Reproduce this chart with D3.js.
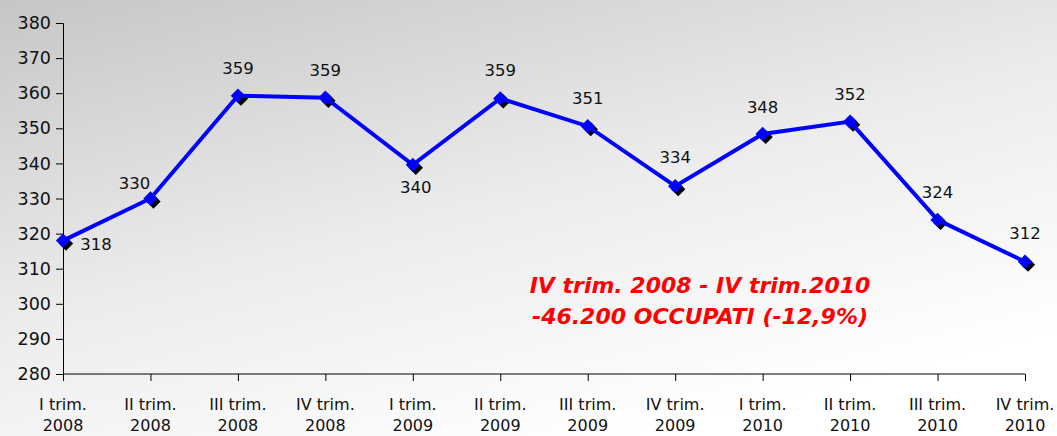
<!DOCTYPE html>
<html>
<head>
<meta charset="utf-8">
<script src="https://cdn.jsdelivr.net/npm/d3@7"></script>
<style>
  body { margin: 0; }
  text { font-family: "DejaVu Sans", Verdana, sans-serif; }
</style>
</head>
<body>
<div id="plot"></div>
<script>
// data
var quarters = ['I trim.', 'II trim.', 'III trim.', 'IV trim.', 'I trim.', 'II trim.', 'III trim.', 'IV trim.', 'I trim.', 'II trim.', 'III trim.', 'IV trim.'];
var years = ['2008', '2008', '2008', '2008', '2009', '2009', '2009', '2009', '2010', '2010', '2010', '2010'];
var occupati = [318, 330, 359.3, 358.7, 339.6, 358.5, 350.6, 333.5, 348.4, 351.9, 323.9, 312];
var labels = ['318', '330', '359', '359', '340', '359', '351', '334', '348', '352', '324', '312'];
var yTicks = [280, 290, 300, 310, 320, 330, 340, 350, 360, 370, 380];
var note = ['IV trim. 2008 - IV trim.2010', '-46.200 OCCUPATI (-12,9%)'];

var svg_width = 1057;
var svg_height = 436;
var left_margin = 63;
var right_x = 1025;
var top_y = 23;
var bottom_y = 374;

var svg = d3.select('#plot').append('svg')
  .attr('width', svg_width)
  .attr('height', svg_height);

// background gradient: grey top-left fading to white
var grad = svg.append('defs').append('linearGradient')
  .attr('id', 'bg')
  .attr('x1', '0%').attr('y1', '0%')
  .attr('x2', '60%').attr('y2', '100%');
grad.append('stop').attr('offset', '0%').attr('stop-color', '#c6c6c6');
grad.append('stop').attr('offset', '55%').attr('stop-color', '#ececec');
grad.append('stop').attr('offset', '100%').attr('stop-color', '#ffffff');

svg.append('rect')
  .attr('width', svg_width)
  .attr('height', svg_height)
  .attr('fill', 'url(#bg)');

var idx = d3.range(quarters.length);

var xscale = d3.scalePoint()
  .domain(idx)
  .range([left_margin, right_x]);

var yscale = d3.scaleLinear()
  .domain([280, 380])
  .range([bottom_y, top_y]);

// y axis
var yaxis = d3.axisLeft(yscale).tickValues(yTicks).tickSize(7).tickPadding(5);
var gy = svg.append('g')
  .attr('transform', 'translate(' + left_margin + ',0)')
  .call(yaxis);
gy.select('.domain').attr('stroke', '#000');
gy.selectAll('text').style('font-size', '17.5px').attr('fill', '#111');

// x axis
var xaxis = d3.axisBottom(xscale).tickSize(7).tickFormat('');
var gx = svg.append('g')
  .attr('transform', 'translate(0,' + bottom_y + ')')
  .call(xaxis);
gx.select('.domain').attr('d', 'M' + left_margin + ',0H' + right_x);

var xl = svg.append('g').selectAll('text')
  .data(idx)
  .enter().append('text')
  .attr('text-anchor', 'middle')
  .style('font-size', '16px')
  .attr('fill', '#111');
xl.append('tspan')
  .attr('x', d => xscale(d))
  .attr('y', 410)
  .text(d => quarters[d]);
xl.append('tspan')
  .attr('x', d => xscale(d))
  .attr('y', 431)
  .text(d => years[d]);

// line
var line = d3.line()
  .x(d => xscale(d))
  .y(d => yscale(occupati[d]));

var diamond = d3.symbol().type(d3.symbolDiamond2).size(130);

// shadow markers
svg.append('g').selectAll('path')
  .data(idx)
  .enter().append('path')
  .attr('d', diamond)
  .attr('fill', '#000')
  .attr('transform', d => 'translate(' + (xscale(d) + 3) + ',' + (yscale(occupati[d]) + 3) + ')');

svg.append('path')
  .datum(idx)
  .attr('d', line)
  .attr('fill', 'none')
  .attr('stroke', '#0000ff')
  .attr('stroke-width', 4);

svg.append('g').selectAll('path')
  .data(idx)
  .enter().append('path')
  .attr('d', diamond)
  .attr('fill', '#0000ff')
  .attr('transform', d => 'translate(' + xscale(d) + ',' + yscale(occupati[d]) + ')');

// data labels (offsets chosen per point as in the original)
var offx = [33, -16, 0, 0, 3, 0, 0, 0, 0, 0, 0, 0];
var offy = [9, -10, -22, -22, 28, -22, -22, -23, -21, -22, -22, -23];
svg.append('g').selectAll('text')
  .data(idx)
  .enter().append('text')
  .attr('x', d => xscale(d) + offx[d])
  .attr('y', d => yscale(occupati[d]) + offy[d])
  .attr('text-anchor', 'middle')
  .style('font-size', '16.5px')
  .attr('fill', '#111')
  .text(d => labels[d]);

// note in red
svg.append('g').selectAll('text')
  .data(note)
  .enter().append('text')
  .attr('x', 700)
  .attr('y', (d, i) => 293 + i * 31)
  .attr('text-anchor', 'middle')
  .style('font-size', '22px')
  .style('font-weight', 'bold')
  .style('font-style', 'italic')
  .attr('fill', '#ff0000')
  .text(d => d);
</script>
</body>
</html>
